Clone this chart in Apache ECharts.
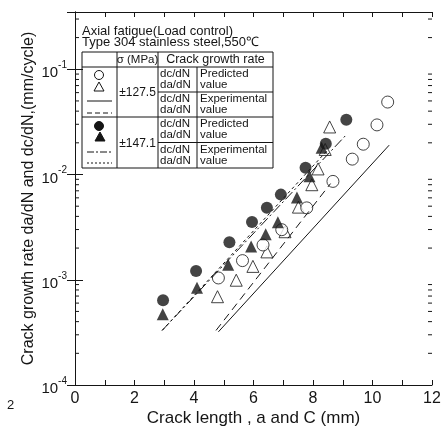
<!DOCTYPE html>
<html lang="en">
<head>
<meta charset="UTF-8">
<title>Crack growth rate vs crack length</title>
<style>
  html, body { margin: 0; padding: 0; background: #fff; }
  #main { width: 446px; height: 439px; }
</style>
</head>
<body>
<div id="main"></div>
<script src="https://cdn.jsdelivr.net/npm/echarts@6/dist/echarts.min.js"></script>
<script>
// sigma = 127.5 MPa, predicted (open symbols)
let openCircleX = [4.82, 5.63, 6.32, 6.95, 7.79, 8.67, 9.32, 9.69, 10.15, 10.51];
let openCircleY = [1.04e-3, 1.52e-3, 2.14e-3, 2.99e-3, 4.82e-3, 8.6e-3, 0.0140, 0.0194, 0.0296, 0.0488];
let openTriX = [4.79, 5.42, 5.98, 6.45, 7.06, 7.51, 7.96, 8.17, 8.41, 8.56];
let openTriY = [6.9e-4, 9.9e-4, 1.34e-3, 1.84e-3, 2.86e-3, 4.9e-3, 8.0e-3, 0.0113, 0.0173, 0.0283];
// sigma = 147.1 MPa, predicted (filled symbols)
let fillCircleX = [2.96, 4.07, 5.19, 5.95, 6.45, 6.92, 7.75, 8.43, 9.12];
let fillCircleY = [6.4e-4, 1.21e-3, 2.27e-3, 3.54e-3, 4.82e-3, 6.44e-3, 0.0116, 0.0196, 0.0332];
let fillTriX = [2.95, 4.10, 5.15, 5.92, 6.41, 6.82, 7.46, 7.88, 8.29];
let fillTriY = [4.71e-4, 8.4e-4, 1.39e-3, 2.07e-3, 2.70e-3, 3.52e-3, 6.06e-3, 9.6e-3, 0.018];
// experimental lines (end points)
let exp127dcX = [4.82, 10.56];
let exp127dcY = [3.2e-4, 0.019];
let exp127daX = [4.74, 8.59];
let exp127daY = [3.3e-4, 8.2e-3];
let exp147dcX = [2.93, 9.11];
let exp147dcY = [3.3e-4, 0.0237];
let exp147daX = [2.93, 8.46];
let exp147daY = [3.3e-4, 0.0167];
// axes
let xTicks = [0, 2, 4, 6, 8, 10, 12];
let yDecades = [1e-4, 1e-3, 1e-2, 1e-1];
let yMinorFactors = [2, 3, 4, 5, 6, 7, 8, 9];

function pairs(xs, ys) {
  return xs.map(function (x, i) { return [x, ys[i]]; });
}

let FONT = 'Liberation Sans';
let INK = '#151515';

let chart = echarts.init(document.getElementById('main'));

function expLabel(v) {
  let e = Math.log10(v);
  let r = Math.round(e);
  if (Math.abs(e - r) > 1e-6) return '';
  return '{b|10}{s|' + r + '}';
}

let xAxisBase = {
  type: 'value', min: 0, max: 12, interval: 1,
  axisLine: { lineStyle: { color: INK, width: 1 } },
  axisTick: { inside: true, length: 5, lineStyle: { color: INK } },
  splitLine: { show: false }
};
let yAxisBase = {
  type: 'log', logBase: 10, min: 1e-4, max: 0.35,
  axisLine: { lineStyle: { color: INK, width: 1 } },
  axisTick: { inside: true, length: 8, lineStyle: { color: INK } },
  splitLine: { show: false },
  minorTick: { show: false }
};

let option = {
  animation: false,
  backgroundColor: '#fff',
  grid: { left: 75, right: 14, top: 12, bottom: 54 },
  xAxis: [
    Object.assign({}, xAxisBase, {
      position: 'bottom',
      name: 'Crack length , a and C (mm)',
      nameLocation: 'middle',
      nameGap: 25,
      nameMoveOverlap: false,
      nameTextStyle: { fontFamily: FONT, fontSize: 17, color: INK },
      axisLabel: {
        fontFamily: FONT, fontSize: 16, color: INK, margin: 6,
        formatter: function (v) { return xTicks.indexOf(v) >= 0 ? String(v) : ''; }
      }
    }),
    Object.assign({}, xAxisBase, { position: 'top', axisLabel: { show: false } })
  ],
  yAxis: [
    Object.assign({}, yAxisBase, {
      position: 'left',
      name: 'Crack growth rate da/dN and dc/dN,(mm/cycle)',
      nameLocation: 'middle',
      nameGap: 38,
      nameMoveOverlap: false,
      nameTextStyle: { fontFamily: FONT, fontSize: 16, color: INK },
      axisLabel: {
        margin: 8,
        formatter: expLabel,
        rich: {
          b: { fontFamily: FONT, fontSize: 15, color: INK, padding: [8, 0, 0, 0] },
          s: { fontFamily: FONT, fontSize: 10, color: INK, padding: [0, 0, 8, 0] }
        }
      }
    }),
    Object.assign({}, yAxisBase, { position: 'right', axisLabel: { show: false } })
  ],
  series: [
    { type: 'line', data: pairs(exp127dcX, exp127dcY), symbol: 'none',
      lineStyle: { color: INK, width: 1 } },
    { type: 'line', data: pairs(exp127daX, exp127daY), symbol: 'none',
      lineStyle: { color: INK, width: 1, type: [8, 5] } },
    { type: 'line', data: pairs(exp147dcX, exp147dcY), symbol: 'none',
      lineStyle: { color: INK, width: 1, type: [10, 3, 2, 3] } },
    { type: 'line', data: pairs(exp147daX, exp147daY), symbol: 'none',
      lineStyle: { color: INK, width: 1, type: [3, 3] } },
    { type: 'scatter', data: pairs(openTriX, openTriY), symbol: 'triangle', symbolSize: 12,
      itemStyle: { color: '#fff', borderColor: INK, borderWidth: 1 } },
    { type: 'scatter', data: pairs(openCircleX, openCircleY), symbol: 'circle', symbolSize: 12,
      itemStyle: { color: '#fff', borderColor: INK, borderWidth: 1 } },
    { type: 'scatter', data: pairs(fillTriX, fillTriY), symbol: 'triangle', symbolSize: 12,
      itemStyle: { color: INK } },
    { type: 'scatter', data: pairs(fillCircleX, fillCircleY), symbol: 'circle', symbolSize: 12,
      itemStyle: { color: INK } }
  ]
};
chart.setOption(option);

// legend table drawn as a graphic group
function txt(x, y, s, align, size) {
  return { type: 'text', x: x, y: y,
    style: { text: s, fontFamily: FONT, fontSize: size || 11.5, fill: INK,
      align: align || 'left', verticalAlign: 'middle' } };
}
function ln(x1, y1, x2, y2, dash) {
  return { type: 'line', shape: { x1: x1, y1: y1, x2: x2, y2: y2 },
    style: { stroke: INK, lineWidth: 1, lineDash: dash || null } };
}
function tri(cx, cy, r, fill) {
  return { type: 'polygon',
    shape: { points: [[cx, cy - r], [cx + r, cy + r * 0.8], [cx - r, cy + r * 0.8]] },
    style: { fill: fill, stroke: INK, lineWidth: 1 } };
}
function circ(cx, cy, r, fill) {
  return { type: 'circle', shape: { cx: cx, cy: cy, r: r },
    style: { fill: fill, stroke: INK, lineWidth: 1 } };
}

let tableParts = [
  { type: 'rect', shape: { x: 0, y: 0, width: 191, height: 116 },
    style: { fill: '#fff', stroke: INK, lineWidth: 1 } },
  ln(35, 0, 35, 116), ln(76, 0, 76, 116), ln(115, 15, 115, 116),
  ln(0, 15, 191, 15), ln(0, 65, 191, 65),
  ln(76, 40, 191, 40), ln(76, 90.5, 191, 90.5),
  txt(55.5, 8, 'σ (MPa)', 'center'),
  txt(133.5, 8, 'Crack growth rate', 'center', 12.5),
  txt(55.5, 41, '±127.5', 'center', 12),
  txt(55.5, 92, '±147.1', 'center', 12),
  circ(17, 23, 4.5, '#fff'), tri(17, 35, 5, '#fff'),
  ln(5, 49, 30, 49), ln(5, 61, 30, 61, [5, 3]),
  circ(17, 74, 4.5, INK), tri(18, 85, 5, INK),
  ln(5, 100, 30, 100, [7, 2, 2, 2]), ln(5, 111, 30, 111, [2, 2])
];
[15, 40, 65, 90.5].forEach(function (top, i) {
  tableParts.push(txt(78, top + 7, 'dc/dN'));
  tableParts.push(txt(78, top + 18, 'da/dN'));
  tableParts.push(txt(118, top + 7, i % 2 === 0 ? 'Predicted' : 'Experimental'));
  tableParts.push(txt(118, top + 18, 'value'));
});

let graphics = [
  txt(82, 31, 'Axial fatigue(Load control)', 'left', 13),
  txt(82, 42, 'Type 304 stainless steel,550℃', 'left', 13),
  { type: 'group', x: 82, y: 52, children: tableParts },
  txt(7, 405, '2', 'left', 13)
];

// minor log ticks on both vertical axes, placed through the axis scale
let xl = chart.convertToPixel({ xAxisIndex: 0 }, 0);
let xr = chart.convertToPixel({ xAxisIndex: 0 }, 12);
yDecades.forEach(function (d) {
  yMinorFactors.forEach(function (f) {
    let v = d * f;
    if (v > 0.35) return;
    let py = chart.convertToPixel({ yAxisIndex: 0 }, v);
    graphics.push({ type: 'line', shape: { x1: xl, y1: py, x2: xl + 4, y2: py },
      style: { stroke: INK, lineWidth: 1 } });
    graphics.push({ type: 'line', shape: { x1: xr, y1: py, x2: xr - 4, y2: py },
      style: { stroke: INK, lineWidth: 1 } });
  });
});

chart.setOption({ graphic: graphics });
</script>
</body>
</html>
